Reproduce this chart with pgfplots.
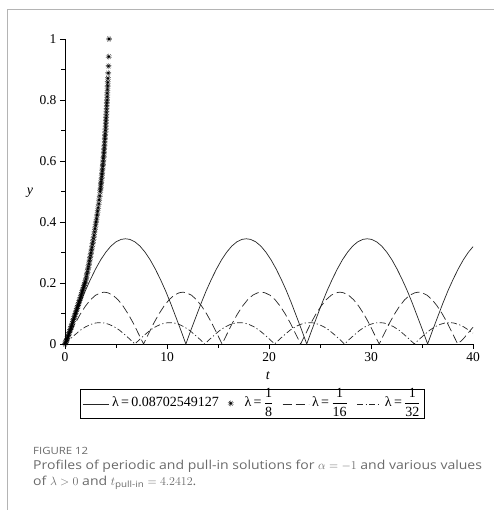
\documentclass[border=0pt]{standalone}
\usepackage{fontspec}
\setmainfont{Liberation Serif}
\newfontfamily\capfont[FakeStretch=1.14]{Open Sans}
\usepackage{amsmath}
\usepackage{pgfplots}
\pgfplotsset{compat=1.18}
\usetikzlibrary{plotmarks}
\definecolor{framegray}{HTML}{B4B4B4}
\definecolor{captext}{HTML}{6A6A6A}
\definecolor{curve}{HTML}{262626}
\pgfplotsset{
  lineleg/.style={legend image code/.code={\draw[##1] (0pt,0pt) -- (26pt,0pt);}},
  dotleg/.style={legend image code/.code={\draw[##1] (0pt,0pt) -- (24.4pt,0pt);}},
  starleg/.style={legend image code/.code={\draw[mark repeat=2, mark phase=2, ##1] plot coordinates {(0pt,1pt)(6pt,1pt)(15pt,1pt)};}},
}

\begin{document}
\begin{tikzpicture}
% page frame (screenshot crop)
\path[use as bounding box] (0pt,0pt) rectangle (494pt,-510pt);
\draw[framegray, line width=0.8pt] (7pt,-510pt) -- (7pt,-9pt) -- (494pt,-9pt);

\begin{axis}[
  at={(65pt,-344pt)}, anchor=south west,
  scale only axis, width=408pt, height=305pt,
  xmin=0, xmax=40, ymin=0, ymax=1,
  axis lines=left, axis line style={-, line width=0.7pt},
  xtick={0,10,20,30,40}, ytick={0,0.2,0.4,0.6,0.8,1},
  minor x tick num=1, minor y tick num=1,
  tick align=outside, major tick length=5pt, minor tick length=3.5pt,
  tick style={black, line width=0.6pt},
  ticklabel style={font=\fontsize{13.5}{15}\selectfont},
  /pgf/number format/assume math mode=true,
  clip=false,
  xlabel={\textit{t}}, ylabel={\textit{y}},
  label style={font=\fontsize{14}{16}\selectfont},
  xlabel style={at={(axis description cs:0.4975,-0.105)}, anchor=center},
  ylabel style={rotate=-90, at={(axis description cs:-0.086,0.495)}, anchor=center},
  legend columns=4,
  legend style={at={(axis description cs:0.4596,-0.198)}, anchor=center,
    draw=black, line width=0.9pt, inner xsep=2pt, inner ysep=1pt,
    font=\fontsize{14}{16}\selectfont,
    nodes={text height=14pt, text depth=9pt, inner xsep=2pt},
    /tikz/every odd column/.append style={column sep=1pt},
    /tikz/every even column/.append style={column sep=7pt}},
]
\addplot[curve, line width=0.7pt, lineleg] coordinates {
(0,0)(0.5,0.046)(1,0.090)(1.5,0.134)(2,0.175)(2.5,0.212)(3,0.246)(3.5,0.276)(4,0.301)(4.5,0.321)(5,0.335)(5.5,0.343)(5.925,0.345)(6.35,0.343)(6.85,0.335)(7.35,0.321)(7.85,0.301)(8.35,0.276)(8.85,0.246)(9.35,0.212)(9.85,0.175)(10.35,0.134)(10.85,0.090)(11.35,0.046)(11.85,0)
(12.35,0.046)(12.85,0.090)(13.35,0.134)(13.85,0.175)(14.35,0.212)(14.85,0.246)(15.35,0.276)(15.85,0.301)(16.35,0.321)(16.85,0.335)(17.35,0.343)(17.775,0.345)(18.2,0.343)(18.7,0.335)(19.2,0.321)(19.7,0.301)(20.2,0.276)(20.7,0.246)(21.2,0.212)(21.7,0.175)(22.2,0.134)(22.7,0.090)(23.2,0.046)(23.7,0)
(24.2,0.046)(24.7,0.090)(25.2,0.134)(25.7,0.175)(26.2,0.212)(26.7,0.246)(27.2,0.276)(27.7,0.301)(28.2,0.321)(28.7,0.335)(29.2,0.343)(29.625,0.345)(30.05,0.343)(30.55,0.335)(31.05,0.321)(31.55,0.301)(32.05,0.276)(32.55,0.246)(33.05,0.212)(33.55,0.175)(34.05,0.134)(34.55,0.090)(35.05,0.046)(35.55,0)
(36.05,0.046)(36.55,0.090)(37.05,0.134)(37.55,0.175)(38.05,0.212)(38.55,0.246)(39.05,0.276)(39.55,0.301)(40,0.319)};
\addlegendentry{λ\,=\,0.08702549127}

\addplot[only marks, mark=10-pointed star, mark size=3pt, mark options={fill=black, draw=black, line width=0.3pt}, starleg] coordinates {
(0.00,0)(0.05,0.004)(0.10,0.008)(0.15,0.012)(0.20,0.016)(0.25,0.021)(0.30,0.026)(0.35,0.030)(0.40,0.035)(0.45,0.040)
(0.50,0.045)(0.55,0.050)(0.60,0.055)(0.65,0.060)(0.70,0.066)(0.75,0.071)(0.80,0.077)(0.85,0.082)(0.90,0.087)(0.95,0.093)
(1.00,0.098)(1.05,0.103)(1.10,0.108)(1.15,0.114)(1.20,0.119)(1.25,0.124)(1.30,0.129)(1.35,0.134)(1.40,0.140)(1.45,0.145)
(1.50,0.150)(1.55,0.156)(1.60,0.161)(1.65,0.167)(1.70,0.172)(1.75,0.178)(1.80,0.183)(1.85,0.189)(1.90,0.194)(1.95,0.200)
(2.00,0.205)(2.05,0.213)(2.10,0.221)(2.15,0.229)(2.20,0.237)(2.25,0.246)(2.30,0.254)(2.35,0.263)(2.40,0.272)(2.45,0.281)
(2.50,0.290)(2.55,0.299)(2.60,0.308)(2.65,0.317)(2.70,0.327)(2.75,0.336)(2.80,0.346)(2.85,0.356)(2.90,0.367)(2.95,0.378)
(3.00,0.389)(3.05,0.400)(3.10,0.411)(3.15,0.423)(3.20,0.435)(3.25,0.447)(3.30,0.460)(3.35,0.473)(3.40,0.486)(3.45,0.500)
(3.475,0.508)(3.50,0.516)(3.525,0.524)(3.55,0.532)(3.575,0.540)(3.60,0.549)(3.625,0.557)(3.65,0.566)(3.675,0.574)(3.70,0.583)
(3.725,0.591)(3.75,0.600)(3.77,0.609)(3.79,0.617)(3.81,0.626)(3.83,0.635)(3.85,0.644)(3.87,0.653)(3.89,0.662)(3.91,0.672)
(3.93,0.681)(3.95,0.690)(3.97,0.700)(3.985,0.710)(4.00,0.720)(4.015,0.730)(4.03,0.740)(4.045,0.750)(4.06,0.760)(4.075,0.770)
(4.09,0.780)(4.105,0.790)(4.12,0.800)(4.135,0.811)(4.15,0.822)(4.165,0.834)(4.18,0.846)(4.195,0.858)(4.21,0.871)(4.24,0.888)
(4.27,0.911)(4.29,0.942)(4.32,1.000)};
\addlegendentry{\hspace*{8pt}λ\,=\,$\dfrac{\text{1}}{\text{8}}$}

\addplot[curve, line width=0.7pt, dash pattern=on 9pt off 4pt, lineleg] coordinates {
(0,0)(0.5,0.034)(1,0.068)(1.5,0.098)(2,0.124)(2.5,0.145)(3,0.160)(3.5,0.168)(3.85,0.170)(4.2,0.168)(4.7,0.160)(5.2,0.145)(5.7,0.124)(6.2,0.098)(6.7,0.068)(7.2,0.034)(7.7,0)
(8.2,0.034)(8.7,0.068)(9.2,0.098)(9.7,0.124)(10.2,0.145)(10.7,0.160)(11.2,0.168)(11.55,0.170)(11.9,0.168)(12.4,0.160)(12.9,0.145)(13.4,0.124)(13.9,0.098)(14.4,0.068)(14.9,0.034)(15.4,0)
(15.9,0.034)(16.4,0.068)(16.9,0.098)(17.4,0.124)(17.9,0.145)(18.4,0.160)(18.9,0.168)(19.25,0.170)(19.6,0.168)(20.1,0.160)(20.6,0.145)(21.1,0.124)(21.6,0.098)(22.1,0.068)(22.6,0.034)(23.1,0)
(23.6,0.034)(24.1,0.068)(24.6,0.098)(25.1,0.124)(25.6,0.145)(26.1,0.160)(26.6,0.168)(26.95,0.170)(27.3,0.168)(27.8,0.160)(28.3,0.145)(28.8,0.124)(29.3,0.098)(29.8,0.068)(30.3,0.034)(30.8,0)
(31.3,0.034)(31.8,0.068)(32.3,0.098)(32.8,0.124)(33.3,0.145)(33.8,0.160)(34.3,0.168)(34.65,0.170)(35.0,0.168)(35.5,0.160)(36.0,0.145)(36.5,0.124)(37.0,0.098)(37.5,0.068)(38.0,0.034)(38.5,0)
(39.0,0.015)(39.5,0.035)(40,0.055)};
\addlegendentry{λ\,=\,$\dfrac{\text{1}}{\text{16}}$}

\addplot[curve, line width=0.7pt, dash pattern=on 6pt off 2.5pt on 1.2pt off 2.5pt, dotleg] coordinates {
(0,0)(0.5,0.016)(1,0.031)(1.5,0.045)(2,0.056)(2.5,0.064)(3,0.069)(3.425,0.070)(3.85,0.069)(4.35,0.064)(4.85,0.056)(5.35,0.045)(5.85,0.031)(6.35,0.016)(6.85,0)
(7.35,0.016)(7.85,0.031)(8.35,0.045)(8.85,0.056)(9.35,0.064)(9.85,0.069)(10.275,0.070)(10.7,0.069)(11.2,0.064)(11.7,0.056)(12.2,0.045)(12.7,0.031)(13.2,0.016)(13.7,0)
(14.2,0.016)(14.7,0.031)(15.2,0.045)(15.7,0.056)(16.2,0.064)(16.7,0.069)(17.125,0.070)(17.55,0.069)(18.05,0.064)(18.55,0.056)(19.05,0.045)(19.55,0.031)(20.05,0.016)(20.55,0)
(21.05,0.016)(21.55,0.031)(22.05,0.045)(22.55,0.056)(23.05,0.064)(23.55,0.069)(23.975,0.070)(24.4,0.069)(24.9,0.064)(25.4,0.056)(25.9,0.045)(26.4,0.031)(26.9,0.016)(27.4,0)
(27.9,0.016)(28.4,0.031)(28.9,0.045)(29.4,0.056)(29.9,0.064)(30.4,0.069)(30.825,0.070)(31.25,0.069)(31.75,0.064)(32.25,0.056)(32.75,0.045)(33.25,0.031)(33.75,0.016)(34.25,0)
(34.75,0.016)(35.25,0.031)(35.75,0.045)(36.25,0.056)(36.75,0.064)(37.25,0.069)(37.675,0.070)(38.1,0.069)(38.6,0.064)(39.1,0.056)(39.6,0.045)(40,0.036)};
\addlegendentry{λ\,=\,$\dfrac{\text{1}}{\text{32}}$}
\end{axis}

% caption
\node[anchor=base west, inner sep=0pt, text=captext, font=\capfont\fontsize{10}{12}\selectfont]
  at (33pt,-454pt) {FIGURE 12};
\node[anchor=base west, inner sep=0pt, text=captext, font=\capfont\fontsize{12.3}{14}\selectfont]
  at (33pt,-469pt) {Profiles of periodic and pull-in solutions for $\alpha = -1$ and various values};
\node[anchor=base west, inner sep=0pt, text=captext, font=\capfont\fontsize{12.3}{14}\selectfont]
  at (33pt,-485pt) {of $\lambda > 0$ and $t_{\text{pull-in}} = 4.2412$.};
\end{tikzpicture}
\end{document}
